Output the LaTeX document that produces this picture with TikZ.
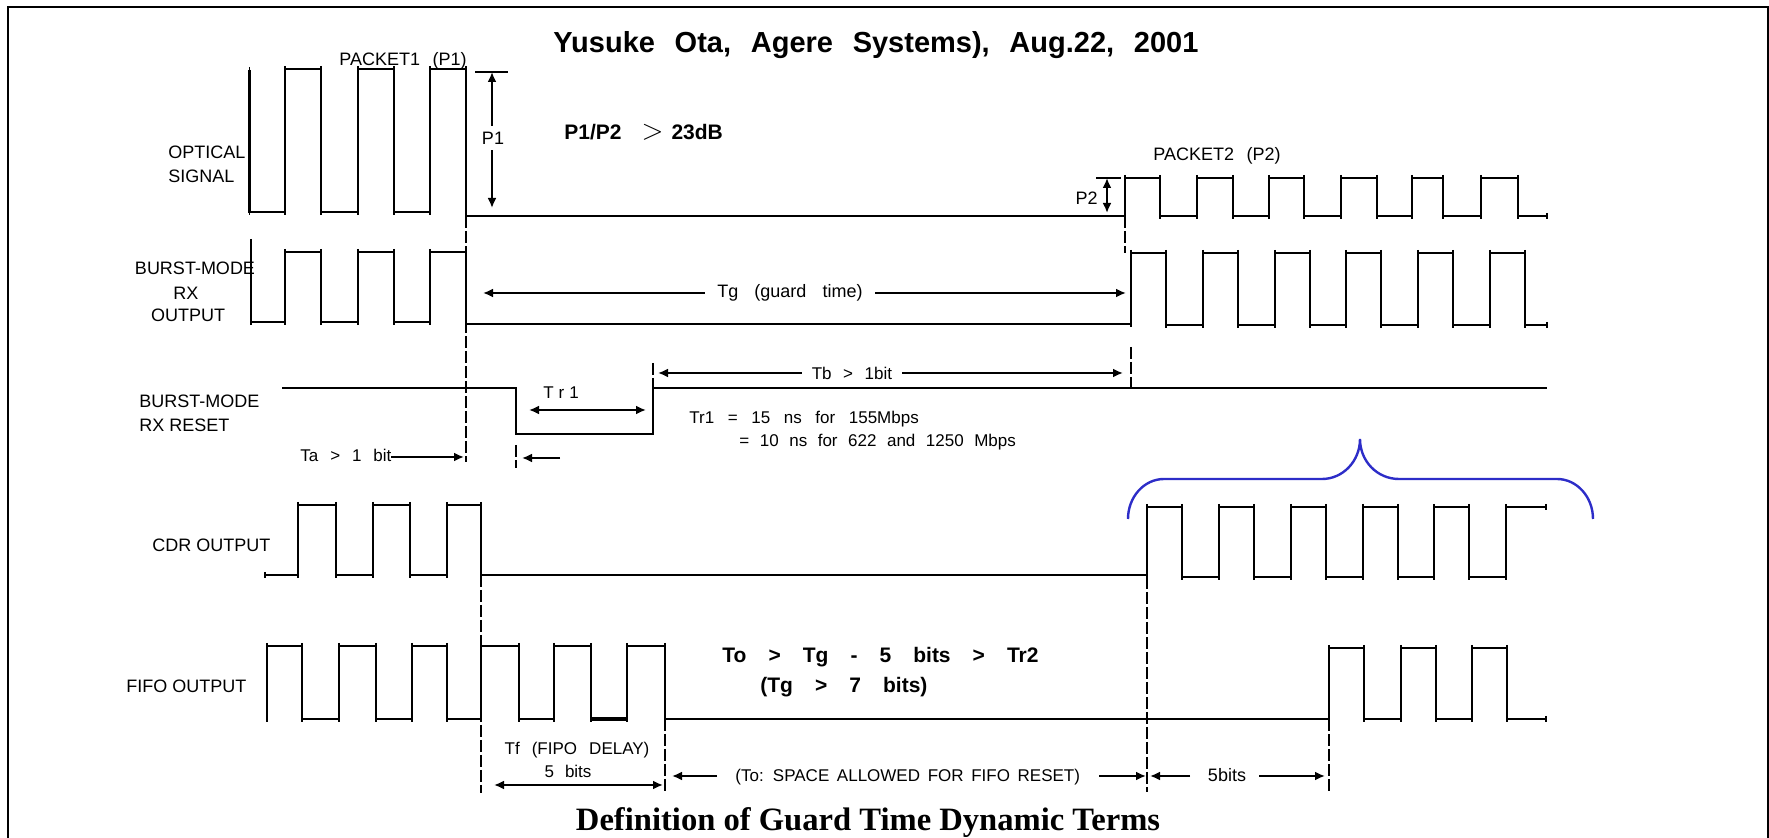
\documentclass[tikz,border=0pt]{standalone}
\usepackage{fontspec}
\setmainfont{Liberation Sans}
\newfontfamily\timesfam{Liberation Serif}
\usetikzlibrary{arrows.meta,plotmarks}
\definecolor{braceblue}{RGB}{45,45,200}
\newcommand\wsp[1]{\spaceskip=#1em\relax}
\begin{document}
\begin{tikzpicture}[x=0.5pt,y=-0.5pt,
  wave/.style={line width=1.1pt, line join=miter, mark=|, mark size=1.5pt, mark options={line width=0.7pt}},
  plain/.style={line width=1.1pt},
  dsh/.style={line width=0.75pt, dash pattern=on 6pt off 1.5pt},
  dim/.style={line width=1pt, {Latex[length=5pt,width=4.5pt]}-{Latex[length=5pt,width=4.5pt]}},
  arr/.style={line width=1pt, -{Latex[length=5pt,width=4.5pt]}},
  lab/.style={inner sep=0pt, font=\fontsize{9}{10}\selectfont},
  ann/.style={inner sep=0pt, font=\fontsize{8.5}{10}\selectfont},
  bld/.style={inner sep=0pt, font=\fontsize{10.5}{12}\selectfont\bfseries},
  brace/.style={braceblue, line width=1.2pt}]
\useasboundingbox (0,0) rectangle (1769,838);
% frame
\draw[line width=1pt] (8,850) -- (8,7.5) -- (1767.5,7.5) -- (1767.5,850);
% title
\node[inner sep=0pt, anchor=base, font=\fontsize{14.5}{16}\selectfont\bfseries] (title) at (876,53) {\wsp{0.68}Yusuke Ota, Agere Systems), Aug.22, 2001};
% row labels
\node[lab, anchor=base west] (pk1) at (339,66) {\wsp{0.7}PACKET1 (P1)};
\node[lab, anchor=base west] (opt1) at (168,159) {OPTICAL};
\node[lab, anchor=base west] (opt2) at (168,183) {SIGNAL};
\node[lab, anchor=base] (bm1) at (195,275) {BURST-MODE};
\node[lab, anchor=base] (bm2) at (186,300) {RX};
\node[lab, anchor=base] (bm3) at (188,322) {OUTPUT};
\node[lab, anchor=base west] (rs1) at (139,408) {BURST-MODE};
\node[lab, anchor=base west] (rs2) at (139,432) {RX RESET};
\node[lab, anchor=base west] (cdr) at (152,552) {CDR OUTPUT};
\node[lab, anchor=base west] (fifo) at (126,693) {FIFO OUTPUT};
\node[lab, anchor=base west] (pk2) at (1153,161) {\wsp{0.7}PACKET2 (P2)};
% optical signal
\draw[wave] plot coordinates {(249.5,70) (249.5,212) (285,212) (285,69) (321,69) (321,212) (358,212) (358,69) (394,69) (394,212) (430,212) (430,69) (466,69) (466,216) (1125,216) (1125,178) (1160,178) (1160,216) (1197,216) (1197,178) (1233,178) (1233,216) (1269,216) (1269,178) (1304,178) (1304,216) (1341,216) (1341,178) (1377,178) (1377,216) (1412,216) (1412,178) (1443,178) (1443,216) (1481,216) (1481,178) (1518,178) (1518,216) (1547,216)};
% burst-mode rx output
\draw[wave] plot coordinates {(251,242) (251,322) (285,322) (285,252) (321,252) (321,322) (358,322) (358,252) (394,252) (394,322) (430,322) (430,252) (466,252) (466,324) (1131,324) (1131,253) (1166,253) (1166,325) (1203,325) (1203,253) (1238,253) (1238,325) (1275,325) (1275,253) (1310,253) (1310,325) (1346,325) (1346,253) (1381,253) (1381,325) (1418,325) (1418,253) (1453,253) (1453,325) (1490,325) (1490,253) (1525,253) (1525,325) (1547,325)};
% reset
\draw[plain] (282,388) -- (516,388) -- (516,434) -- (653,434) -- (653,388) -- (1547,388);
% CDR
\draw[wave] plot coordinates {(265,575) (298,575) (298,505) (336,505) (336,575) (373,575) (373,505) (410,505) (410,575) (447,575) (447,505) (481,505) (481,575) (1147,575) (1147,507) (1182,507) (1182,577) (1219,577) (1219,507) (1254,507) (1254,577) (1291,577) (1291,507) (1326,507) (1326,577) (1363,577) (1363,507) (1398,507) (1398,577) (1434,577) (1434,507) (1469,507) (1469,577) (1506,577) (1506,507) (1546,507)};
% FIFO
\draw[wave] plot coordinates {(267,719) (267,646) (302,646) (302,719) (339,719) (339,646) (376,646) (376,719) (412,719) (412,646) (447,646) (447,719) (481,719) (481,646) (519,646) (519,719) (554,719) (554,646) (591,646) (591,719) (627,719) (627,646) (665,646) (665,719) (1329,719) (1329,648) (1364,648) (1364,719) (1401,719) (1401,648) (1436,648) (1436,719) (1472,719) (1472,648) (1507,648) (1507,719) (1546,719)};
\draw[line width=2pt] (591,719) -- (627,719);
% dashed guides
\draw[dsh] (466,216) -- (466,462);
\draw[dsh] (1125,216) -- (1125,253);
\draw[dsh] (1131,347) -- (1131,392);
\draw[dsh] (516,445) -- (516,468);
\draw[dsh] (653,363) -- (653,388);
\draw[dsh] (481,575) -- (481,793);
\draw[dsh] (665,719) -- (665,793);
\draw[dsh] (1147,577) -- (1147,792);
\draw[dsh] (1329,719) -- (1329,792);
% P1 / P2 amplitude
\draw[line width=1pt] (475,72) -- (508,72);
\draw[dim] (492,72) -- (492,208);
\node[lab, fill=white, inner xsep=1pt, inner ysep=3pt] (p1) at (493,138) {P1};
\draw[line width=1pt] (1096,178) -- (1121,178);
\draw[dim] (1107,178) -- (1107,213);
\node[lab, anchor=east] (p2) at (1098,198) {P2};
\node[bld, anchor=base west] (ratio) at (564,140) {P1/P2\hspace{10pt}{\mdseries\fontsize{14}{14}\selectfont$>$}\hspace{4pt}23dB};
% Tg
\draw[dim] (483,293) -- (1126,293);
\node[lab, fill=white, inner xsep=6pt, inner ysep=1pt] (tg) at (790,293) {\wsp{0.9}Tg (guard time)};
% Tb, Tr1, Ta
\draw[dim] (658,373) -- (1123,373);
\node[ann, fill=white, inner xsep=5pt, inner ysep=1pt] (tb) at (852,373) {\wsp{0.68}Tb > 1bit};
\draw[dim] (529,410) -- (646,410);
\node[ann] (tr1) at (561,393) {T\hspace{2.5pt}r\hspace{2.5pt}1};
\node[ann, anchor=base west] (tr1a) at (689,424) {\wsp{0.8}Tr1 = 15 ns for 155Mbps};
\node[ann, anchor=base west] (tr1b) at (739,447) {\wsp{0.62}= 10 ns for 622 and 1250 Mbps};
\node[ann, anchor=base west] (ta) at (300,462) {\wsp{0.7}Ta > 1 bit};
\draw[arr] (391,457) -- (464,457);
\draw[arr] (560,458) -- (522,458);
% bold relations
\node[bld, anchor=base west] (to1) at (722,663) {\wsp{1.05}To > Tg - 5 bits > Tr2};
\node[bld, anchor=base west] (to2) at (760,693) {\wsp{1.05}(Tg > 7 bits)};
% Tf
\node[ann, anchor=base] (tf1) at (577,755) {\wsp{0.71}Tf (FIPO DELAY)};
\node[ann, anchor=base] (tf2) at (568,778) {\wsp{0.65}5 bits};
\draw[dim] (494,785) -- (663,785);
% To space
\node[ann, anchor=base west] (tosp) at (735,782) {\wsp{0.45}(To: SPACE ALLOWED FOR FIFO RESET)};
\draw[arr] (717,776) -- (672,776);
\draw[arr] (1099,776) -- (1146,776);
\node[lab, anchor=base] (fb) at (1227,782) {5bits};
\draw[arr] (1190,776) -- (1150,776);
\draw[arr] (1259,776) -- (1325,776);
% brace
\draw[brace] (1128,519) .. controls (1128,497) and (1144,479) .. (1164,479) -- (1322,479) .. controls (1343,479) and (1360,461) .. (1360,439) .. controls (1360,461) and (1377,479) .. (1399,479) -- (1557,479) .. controls (1577,479) and (1593,497) .. (1593,519);
% caption
\node[inner sep=0pt, anchor=base, font=\timesfam\bfseries\fontsize{16.3}{18}\selectfont] (cap) at (868,831) {Definition of Guard Time Dynamic Terms};
\end{tikzpicture}
\end{document}
